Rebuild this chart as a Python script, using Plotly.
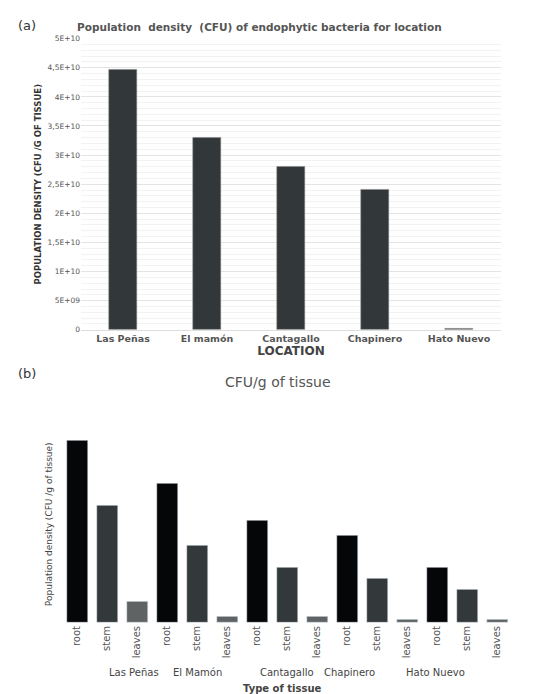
import plotly.graph_objects as go

locs_a = ["Las Peñas", "El mamón", "Cantagallo", "Chapinero", "Hato Nuevo"]
vals_a = [4.47e10, 3.30e10, 2.80e10, 2.40e10, 0.02e10]
ytick_vals = [0, 5e9, 1e10, 1.5e10, 2e10, 2.5e10, 3e10, 3.5e10, 4e10, 4.5e10, 5e10]
ytick_text = ["0", "5E+09", "1E+10", "1,5E+10", "2E+10", "2,5E+10", "3E+10", "3,5E+10", "4E+10", "4,5E+10", "5E+10"]

locs_b = ["Las Peñas", "El Mamón", "Cantagallo", "Chapinero", "Hato Nuevo"]
tissues = ["root", "stem", "leaves"]
root = [185, 141, 104, 89, 56]
stem = [119, 78, 56, 45, 34]
leaves = [22, 6.5, 6.5, 3, 3]
tissue_colors = {"root": "#050607", "stem": "#33393a", "leaves": "#5f6364"}

fig = go.Figure()
fig.add_trace(go.Bar(x=locs_a, y=vals_a, marker=dict(color="#323739", line=dict(color="#888", width=0.5)),
                     width=0.33, xaxis="x", yaxis="y", showlegend=False))

series = {"root": root, "stem": stem, "leaves": leaves}
for ti, t in enumerate(tissues):
    xs = [li * 3 + ti for li in range(len(locs_b))]
    fig.add_trace(go.Bar(x=xs, y=series[t], marker=dict(color=tissue_colors[t]), width=0.7,
                         xaxis="x2", yaxis="y2", showlegend=False))

tick_pos = list(range(15))
tick_lab = [tissues[i % 3] for i in tick_pos]

W, H = 551, 694
fx = lambda p: p / W
fy = lambda p: 1 - p / H

fig.update_layout(
    width=W, height=H, margin=dict(l=0, r=0, t=0, b=0),
    paper_bgcolor="white", plot_bgcolor="white", bargap=0,
    font=dict(family="DejaVu Sans", color="#444"),
    xaxis=dict(domain=[fx(73), fx(493)], anchor="y", showline=True, linecolor="#ddd",
               tickvals=locs_a, ticktext=["<b>%s</b>" % l for l in locs_a],
               tickfont=dict(size=9.5, color="#555"), ticks="",
               title=dict(text="<b>LOCATION</b>", font=dict(size=12, color="#444"), standoff=2)),
    yaxis=dict(domain=[fy(322), fy(27)], anchor="x", range=[0, 5e10], tickvals=ytick_vals, ticktext=ytick_text,
               tickfont=dict(size=7.5, color="#555"), gridcolor="#e4e4e4", zeroline=False,
               minor=dict(dtick=1e9, showgrid=True, gridcolor="#f2f2f2"),
               title=dict(text="<b>POPULATION DENSITY (CFU /G OF TISSUE)</b>", font=dict(size=8.5, color="#333"), standoff=4)),
    xaxis2=dict(domain=[fx(54), fx(504)], anchor="y2", range=[-0.5, 14.5], tickvals=tick_pos, ticktext=tick_lab,
                tickangle=-90, tickfont=dict(size=10, color="#555", family="DejaVu Sans"), ticks="", showline=False),
    yaxis2=dict(domain=[fy(619), fy(419)], anchor="x2", range=[0, 200], showticklabels=False, showgrid=False,
                zeroline=False,
                title=dict(text="Population density (CFU /g of tissue)", font=dict(size=9, color="#444"), standoff=6)),
)

ann = [
    dict(text="(a)", x=fx(8), y=fy(14), xanchor="left"),
    dict(text="<b>Population  density  (CFU) of endophytic bacteria for location</b>", x=fx(251), y=fy(15),
         font=dict(size=10.5, color="#555")),
    dict(text="(b)", x=fx(8), y=fy(366), xanchor="left"),
    dict(text="CFU/g of tissue", x=fx(270), y=fy(375), font=dict(size=14, color="#555")),
    dict(text="<b>Type of tissue</b>", x=fx(274), y=fy(685), font=dict(size=10, color="#444")),
]
for i, l in enumerate(locs_b):
    xc = 54 + (i * 3 + 1 + 0.5) * (450 / 15)
    ann.append(dict(text=l, x=fx(xc), y=fy(669), font=dict(size=10, color="#444")))
for a in ann:
    a.setdefault("font", dict(size=13, color="#333"))
    fig.add_annotation(xref="paper", yref="paper", showarrow=False, yanchor="middle", **a)

fig.write_html("out.html")
